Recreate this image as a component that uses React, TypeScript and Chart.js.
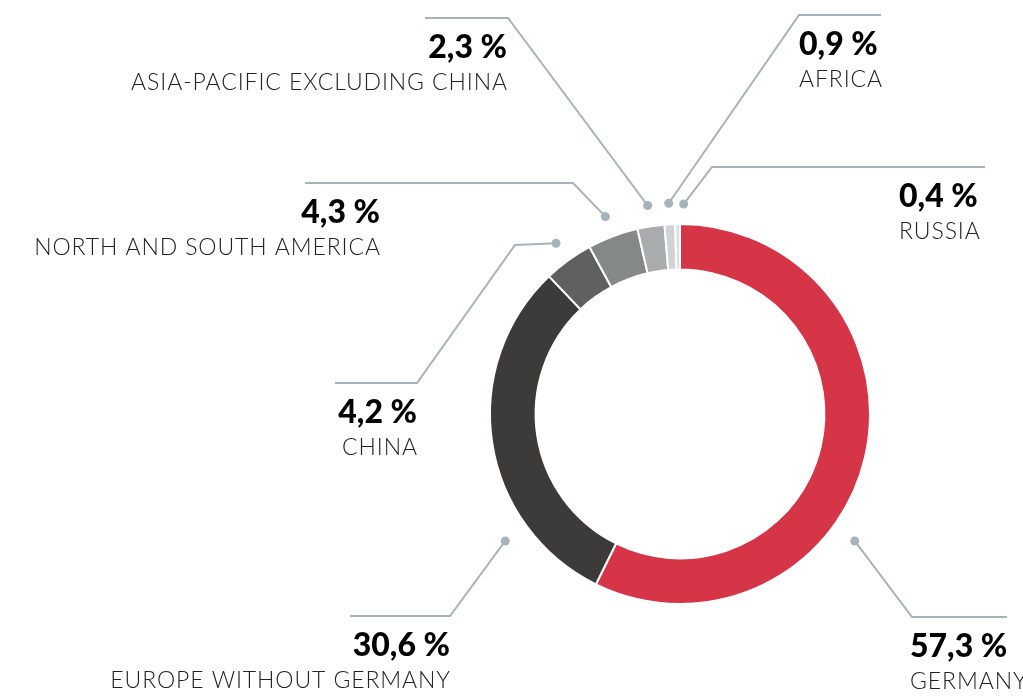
import React, { useEffect, useRef } from "react";
import { Chart, registerables } from "chart.js";

Chart.register(...registerables);

// ---- data ----
const categories = [
  "GERMANY",
  "EUROPE WITHOUT GERMANY",
  "CHINA",
  "NORTH AND SOUTH AMERICA",
  "ASIA-PACIFIC EXCLUDING CHINA",
  "AFRICA",
  "RUSSIA",
];
const shares = [57.3, 30.6, 4.2, 4.3, 2.3, 0.9, 0.4];

// ---- styles ----
const sliceColors = ["#d53546", "#3d3b39", "#5f6160", "#858889", "#a9acad", "#d0d3d5", "#dedede"];
const leaderColor = "#a7b3ba";

// annotation layout (dot angle in degrees clockwise from top; null = middle of the slice)
const dotAngles: (number | null)[] = [126, 234, null, null, null, null, 1];
const dotGaps = [26, 26, 21, 21, 21, 21, 20];
const leaderPaths: number[][][] = [
  [[912, 617], [1007, 617]],
  [[450, 616], [350, 616]],
  [[515, 245], [417, 383], [335, 383]],
  [[573, 183], [305, 183]],
  [[508, 18], [425, 18]],
  [[799, 15], [881, 15]],
  [[712, 167], [985, 167]],
];
const labelX = [910, 450, 417, 380, 507, 799, 899];
const labelAlign: CanvasTextAlign[] = ["left", "right", "right", "right", "right", "left", "left"];

const fmt = (v: number) => v.toFixed(1).replace(".", ",") + " %";

const leaderPlugin = {
  id: "leaders",
  afterDraw(chart: any) {
    const ctx: CanvasRenderingContext2D = chart.ctx;
    const meta = chart.getDatasetMeta(0);
    meta.data.forEach((arc: any, i: number) => {
      const { x, y, startAngle, endAngle, outerRadius } = arc.getProps(
        ["x", "y", "startAngle", "endAngle", "outerRadius"],
        true
      );
      const a = dotAngles[i];
      const theta = a === null ? (startAngle + endAngle) / 2 : ((a - 90) * Math.PI) / 180;
      const r = outerRadius + dotGaps[i];
      const dx = x + r * Math.cos(theta);
      const dy = y + r * Math.sin(theta);
      const path = leaderPaths[i];

      ctx.save();
      ctx.strokeStyle = leaderColor;
      ctx.lineWidth = 2;
      ctx.lineJoin = "miter";
      ctx.beginPath();
      ctx.moveTo(dx, dy);
      path.forEach((p) => ctx.lineTo(p[0], p[1]));
      ctx.stroke();
      ctx.fillStyle = leaderColor;
      ctx.beginPath();
      ctx.arc(dx, dy, 4.5, 0, Math.PI * 2);
      ctx.fill();

      const lineY = path[path.length - 1][1];
      ctx.textAlign = labelAlign[i];
      ctx.textBaseline = "alphabetic";
      ctx.fillStyle = "#000000";
      ctx.font = "900 32px Lato";
      (ctx as any).letterSpacing = "0px";
      ctx.fillText(fmt(shares[i]), labelX[i], lineY + 40);
      ctx.fillStyle = "#222222";
      ctx.font = "300 23px Lato";
      (ctx as any).letterSpacing = "0.9px";
      const cx = labelAlign[i] === "right" ? labelX[i] + 0.9 : labelX[i];
      ctx.fillText(categories[i], cx, lineY + 72);
      ctx.restore();
    });
  },
};

export default function App() {
  const ref = useRef<HTMLCanvasElement | null>(null);
  useEffect(() => {
    if (!ref.current) return;
    const chart = new Chart(ref.current, {
      type: "doughnut",
      data: {
        labels: categories,
        datasets: [
          {
            data: shares,
            backgroundColor: sliceColors,
            borderColor: "#ffffff",
            borderWidth: 2,
            hoverOffset: 0,
          },
        ],
      },
      options: {
        responsive: false,
        animation: false,
        radius: 190,
        cutout: "76%",
        layout: { padding: { left: 480, right: 143, top: 200, bottom: 69 } },
        plugins: { legend: { display: false }, tooltip: { enabled: false } },
        events: [],
      } as any,
      plugins: [leaderPlugin],
    });
    return () => chart.destroy();
  }, []);
  return (
    <div style={{ position: "fixed", left: 0, top: 0, width: 1023, height: 697, background: "#fff" }}>
      <canvas ref={ref} width={1023} height={697} style={{ display: "block" }} />
    </div>
  );
}
